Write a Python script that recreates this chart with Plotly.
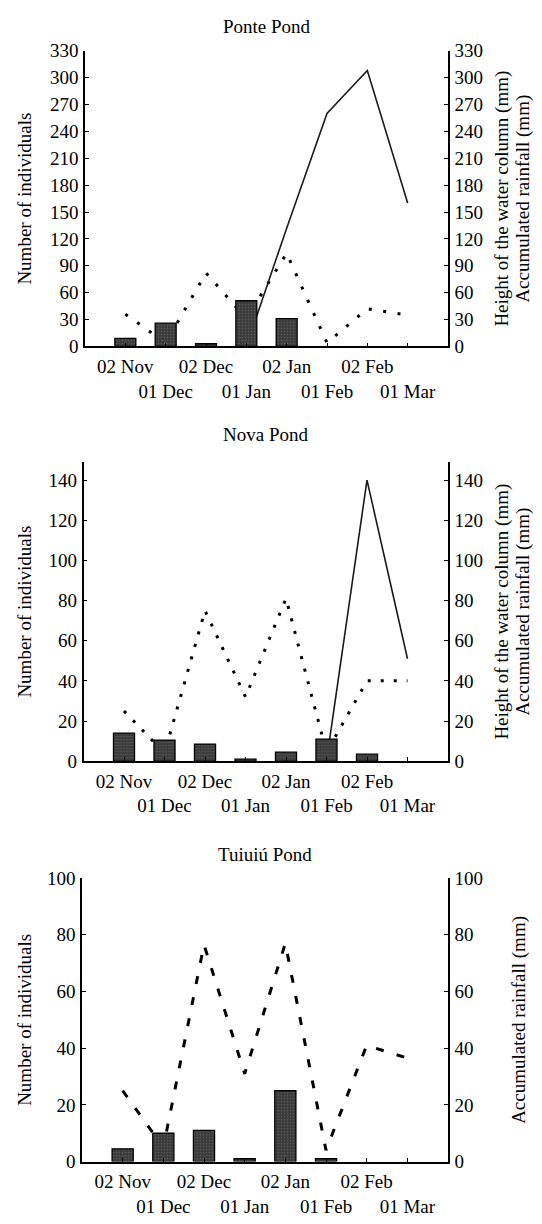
import plotly.graph_objects as go

# ---------------- data ----------------
dates = ["02 Nov", "01 Dec", "02 Dec", "01 Jan", "02 Jan", "01 Feb", "02 Feb", "01 Mar"]

ponte_individuals = [9, 26, 3, 51, 31, None, None, None]
ponte_water = [None, None, None, 0, 132, 260, 308, 160]
ponte_rain = [36, 4, 82, 31, 104, 4, 42, 35]

nova_individuals = [14, 10.5, 8.5, 1, 4.5, 11, 3.5, None]
nova_water = [None, None, None, None, None, 0, 140, 51]
nova_rain = [25, 4, 75, 32, 81, 4.5, 40, 40]

tuiuiu_individuals = [4.5, 10, 11, 1, 25, 1, None, None]
tuiuiu_rain = [25, 5, 76.5, 31, 77, 4, 41, 36.5]

titles = ["Ponte Pond", "Nova Pond", "Tuiuiú Pond"]
left_title = "Number of individuals"
water_title = "Height of the water column (mm)"
rain_title = "Accumulated rainfall (mm)"

y_ranges = [[0, 330], [0, 149], [0, 100]]
y_dticks = [30, 20, 20]

# tick labels staggered on two rows
tick_text = [d if i % 2 == 0 else "<br>" + d for i, d in enumerate(dates)]

# ---------------- layout geometry (pixels) ----------------
W, H = 542, 1224
FONT = "Liberation Serif, Times New Roman, serif"
FS = 19

panels = [
    dict(x0=85, x1=448, top=41.5, bottom=342.3, title_y=17),
    dict(x0=83.5, x1=448, top=459.9, bottom=764.3, title_y=432),
    dict(x0=82, x1=448, top=883.3, bottom=1171.7, title_y=859),
]

def fx(px):
    return px / W

def fy(py):
    return 1 - py / H

fig = go.Figure()

series = [
    (ponte_individuals, ponte_water, ponte_rain, "3px,11.5px", 3),
    (nova_individuals, nova_water, nova_rain, "3px,10px", 3),
    (tuiuiu_individuals, None, tuiuiu_rain, "8px,13.5px", 3),
]

layout = dict(
    width=W, height=H, autosize=False,
    margin=dict(l=0, r=0, t=0, b=0),
    paper_bgcolor="white", plot_bgcolor="white",
    showlegend=False,
    font=dict(family=FONT, size=FS, color="black"),
    annotations=[],
)

for i, (p, (indiv, water, rain, dash, lw)) in enumerate(zip(panels, series)):
    xn = "x" if i == 0 else f"x{i+1}"
    ya_idx = 2 * i + 1          # right-side axis (lines)
    yb_idx = 2 * i + 2          # left-side axis (bars), overlaying -> drawn on top
    ya = "y" if ya_idx == 1 else f"y{ya_idx}"
    yb = f"y{yb_idx}"

    # rainfall line
    fig.add_trace(go.Scatter(
        x=dates, y=rain, mode="lines", xaxis=xn, yaxis=ya,
        line=dict(color="black", width=lw, dash=dash),
        connectgaps=False, hoverinfo="skip"))
    # water column line
    if water is not None:
        fig.add_trace(go.Scatter(
            x=dates, y=water, mode="lines", xaxis=xn, yaxis=ya,
            line=dict(color="#1a1a1a", width=1.6),
            connectgaps=False, hoverinfo="skip"))
    # individuals bars
    fig.add_trace(go.Bar(
        x=dates, y=indiv, xaxis=xn, yaxis=yb, width=0.52,
        marker=dict(color="#3a3a3a",
                    line=dict(color="black", width=1.3),
                    pattern=dict(shape=".", fgcolor="#7a7a7a", size=3, solidity=0.25)),
        hoverinfo="skip"))

    xdom = [fx(p["x0"]), fx(p["x1"])]
    ydom = [fy(p["bottom"]), fy(p["top"])]
    xkey = "xaxis" if i == 0 else f"xaxis{i+1}"
    yakey = "yaxis" if ya_idx == 1 else f"yaxis{ya_idx}"
    ybkey = f"yaxis{yb_idx}"

    common = dict(showline=True, linecolor="black", linewidth=1.5,
                  ticks="inside", ticklen=4, tickcolor="black", tickwidth=1.2,
                  showgrid=False, zeroline=False,
                  tickfont=dict(family=FONT, size=FS, color="black"))

    layout[xkey] = dict(domain=xdom, anchor=ya, type="category",
                        categoryorder="array", categoryarray=dates,
                        range=[-1, 8], tickvals=dates, ticktext=tick_text,
                        tickangle=0, ticklabelstandoff=2, **common)
    layout[yakey] = dict(domain=ydom, anchor=xn, side="right",
                         range=y_ranges[i], dtick=y_dticks[i], tick0=0,
                         ticklabelstandoff=1, **common)
    layout[ybkey] = dict(domain=ydom, anchor=xn, side="left", overlaying=ya,
                         range=y_ranges[i], dtick=y_dticks[i], tick0=0,
                         ticklabelstandoff=1, **common)

    cy = fy((p["top"] + p["bottom"]) / 2)
    # panel title
    layout["annotations"].append(dict(
        text=titles[i], xref="paper", yref="paper",
        x=fx((p["x0"] + p["x1"]) / 2), y=fy(p["title_y"]),
        xanchor="center", yanchor="middle", showarrow=False,
        font=dict(family=FONT, size=FS, color="black")))
    # left title
    layout["annotations"].append(dict(
        text=left_title, xref="paper", yref="paper",
        x=fx(25), y=cy, xanchor="center", yanchor="middle",
        textangle=-90, showarrow=False,
        font=dict(family=FONT, size=FS, color="black")))
    # right titles
    if water is not None:
        layout["annotations"].append(dict(
            text=water_title, xref="paper", yref="paper",
            x=fx(502), y=cy, xanchor="center", yanchor="middle",
            textangle=-90, showarrow=False,
            font=dict(family=FONT, size=FS, color="black")))
        layout["annotations"].append(dict(
            text=rain_title, xref="paper", yref="paper",
            x=fx(523), y=cy, xanchor="center", yanchor="middle",
            textangle=-90, showarrow=False,
            font=dict(family=FONT, size=FS, color="black")))
    else:
        layout["annotations"].append(dict(
            text=rain_title, xref="paper", yref="paper",
            x=fx(519), y=cy, xanchor="center", yanchor="middle",
            textangle=-90, showarrow=False,
            font=dict(family=FONT, size=FS, color="black")))

fig.update_layout(**layout)
fig.write_html("out.html")
